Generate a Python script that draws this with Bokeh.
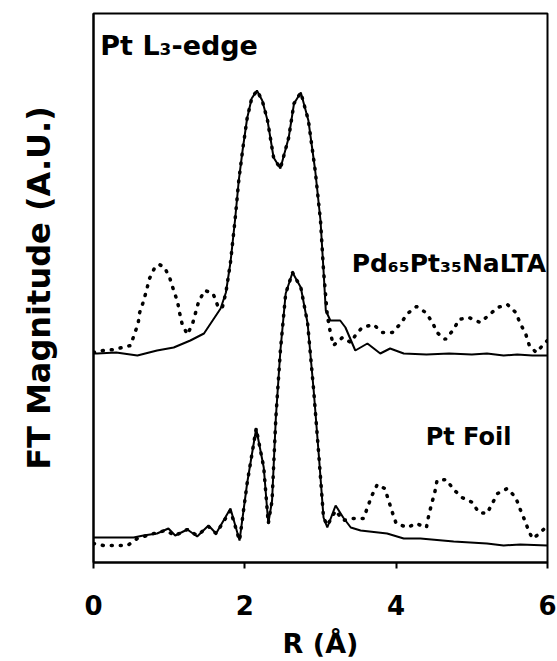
from bokeh.plotting import figure
from bokeh.models import Range1d, FixedTicker, Label
from bokeh.embed import file_html
from bokeh.resources import INLINE

# ---- data (R in Angstrom, FT magnitude in arbitrary units, offset stacked) ----
upper_fit_r = [0.00, 0.05, 0.30, 0.58, 0.84, 1.06, 1.28, 1.46, 1.68, 1.75, 1.81, 1.87, 1.92,
               1.97, 2.03, 2.09, 2.16, 2.23, 2.30, 2.38, 2.47, 2.58, 2.65, 2.74, 2.84, 2.93,
               3.00, 3.04, 3.07, 3.13, 3.26, 3.33, 3.46, 3.62, 3.79, 3.92, 4.10, 4.40, 4.70,
               5.00, 5.20, 5.42, 5.60, 5.80, 6.00]
upper_fit_mag = [2.09, 2.09, 2.10, 2.07, 2.12, 2.15, 2.22, 2.29, 2.54, 2.70, 3.00, 3.42, 3.82,
                 4.12, 4.44, 4.64, 4.72, 4.62, 4.42, 4.05, 3.94, 4.25, 4.59, 4.70, 4.42, 3.92,
                 3.42, 2.92, 2.52, 2.42, 2.42, 2.35, 2.12, 2.19, 2.09, 2.14, 2.09, 2.08, 2.09,
                 2.08, 2.09, 2.07, 2.08, 2.07, 2.07]

upper_data_r = [0.00, 0.13, 0.27, 0.38, 0.49, 0.53, 0.59, 0.61, 0.66, 0.70, 0.74, 0.81, 0.87,
                0.94, 1.01, 1.06, 1.11, 1.14, 1.17, 1.24, 1.31, 1.35, 1.39, 1.47, 1.58, 1.64,
                1.70, 1.75, 1.81, 1.87, 1.92, 1.97, 2.03, 2.09, 2.16, 2.23, 2.30, 2.38, 2.47,
                2.58, 2.65, 2.74, 2.84, 2.93, 3.00, 3.04, 3.09, 3.13, 3.17, 3.29, 3.40, 3.46,
                3.55, 3.70, 3.82, 3.95, 4.06, 4.15, 4.27, 4.39, 4.48, 4.54, 4.65, 4.76, 4.83,
                4.96, 5.11, 5.22, 5.34, 5.47, 5.58, 5.64, 5.71, 5.76, 5.85, 5.96, 6.00]
upper_data_mag = [2.10, 2.12, 2.13, 2.15, 2.17, 2.26, 2.39, 2.50, 2.61, 2.72, 2.84, 2.95, 2.98,
                  2.95, 2.84, 2.72, 2.61, 2.49, 2.39, 2.28, 2.39, 2.50, 2.61, 2.72, 2.69, 2.57,
                  2.54, 2.70, 3.00, 3.42, 3.82, 4.12, 4.44, 4.64, 4.72, 4.62, 4.42, 4.05, 3.94,
                  4.25, 4.59, 4.70, 4.42, 3.92, 3.42, 2.92, 2.47, 2.30, 2.17, 2.25, 2.20, 2.27,
                  2.35, 2.38, 2.30, 2.30, 2.39, 2.49, 2.56, 2.50, 2.40, 2.30, 2.23, 2.33, 2.43,
                  2.45, 2.40, 2.47, 2.55, 2.58, 2.50, 2.39, 2.29, 2.17, 2.10, 2.19, 2.22]

lower_fit_r = [0.00, 0.53, 0.66, 0.84, 0.99, 1.08, 1.24, 1.37, 1.52, 1.62, 1.81, 1.93, 2.03,
               2.15, 2.25, 2.31, 2.36, 2.41, 2.47, 2.54, 2.63, 2.74, 2.83, 2.91, 2.98, 3.04,
               3.09, 3.20, 3.30, 3.40, 3.53, 3.88, 4.10, 4.32, 4.76, 5.20, 5.42, 5.64, 6.00]
lower_fit_mag = [0.25, 0.25, 0.27, 0.29, 0.34, 0.27, 0.33, 0.26, 0.37, 0.29, 0.54, 0.22, 0.79,
                 1.34, 0.95, 0.39, 0.62, 1.45, 2.12, 2.69, 2.90, 2.75, 2.39, 1.72, 1.05, 0.45,
                 0.35, 0.57, 0.45, 0.35, 0.32, 0.29, 0.24, 0.24, 0.21, 0.19, 0.17, 0.18, 0.17]

lower_data_r = [0.00, 0.13, 0.29, 0.45, 0.58, 0.75, 0.95, 1.08, 1.24, 1.37, 1.52, 1.62, 1.81,
                1.93, 2.03, 2.15, 2.25, 2.31, 2.36, 2.41, 2.47, 2.54, 2.63, 2.74, 2.83, 2.91,
                2.98, 3.04, 3.09, 3.20, 3.30, 3.42, 3.57, 3.62, 3.68, 3.75, 3.85, 3.90, 3.95,
                4.00, 4.15, 4.26, 4.40, 4.43, 4.47, 4.51, 4.54, 4.66, 4.76, 4.87, 5.01, 5.09,
                5.20, 5.27, 5.34, 5.47, 5.58, 5.64, 5.70, 5.75, 5.80, 5.88, 6.00]
lower_data_mag = [0.19, 0.17, 0.17, 0.17, 0.24, 0.28, 0.32, 0.27, 0.33, 0.27, 0.36, 0.29, 0.52,
                  0.22, 0.79, 1.34, 0.95, 0.39, 0.62, 1.45, 2.12, 2.69, 2.90, 2.75, 2.39, 1.72,
                  1.05, 0.45, 0.37, 0.52, 0.42, 0.44, 0.44, 0.55, 0.67, 0.78, 0.74, 0.62, 0.50,
                  0.39, 0.35, 0.39, 0.35, 0.47, 0.59, 0.70, 0.82, 0.83, 0.73, 0.65, 0.60, 0.50,
                  0.49, 0.59, 0.69, 0.74, 0.65, 0.53, 0.42, 0.32, 0.24, 0.28, 0.37]

x_ticks = [0, 2, 4, 6]
FONT = "DejaVu Sans"

p = figure(width=557, height=661, output_backend="svg", toolbar_location=None,
           x_range=Range1d(0, 6), y_range=Range1d(0, 5.49),
           min_border_left=93, min_border_right=10, min_border_top=13, min_border_bottom=99)
p.background_fill_color = "white"
p.border_fill_color = "white"
p.grid.visible = False
p.outline_line_color = "black"
p.outline_line_width = 2

# data as dotted, fits as solid
for r, m in [(upper_data_r, upper_data_mag), (lower_data_r, lower_data_mag)]:
    p.line(r, m, line_color="black", line_width=3.5, line_dash="1 8", line_cap="round")
for r, m in [(upper_fit_r, upper_fit_mag), (lower_fit_r, lower_fit_mag)]:
    p.line(r, m, line_color="black", line_width=2)

p.xaxis.ticker = FixedTicker(ticks=x_ticks)
p.xaxis.minor_tick_line_color = None
p.xaxis.major_tick_in = 0
p.xaxis.major_tick_out = 6
p.xaxis.major_tick_line_width = 2
p.xaxis.axis_line_width = 2
p.xaxis.major_label_text_font = FONT
p.xaxis.major_label_text_font_style = "bold"
p.xaxis.major_label_text_font_size = "26px"
p.xaxis.major_label_text_color = "black"
p.xaxis.major_label_standoff = 26
p.xaxis.axis_label = "R (Å)"
p.xaxis.axis_label_text_font = FONT
p.xaxis.axis_label_text_font_style = "bold"
p.xaxis.axis_label_text_font_size = "27px"
p.xaxis.axis_label_text_color = "black"
p.xaxis.axis_label_standoff = 10

p.yaxis.ticker = FixedTicker(ticks=[])
p.yaxis.minor_tick_line_color = None
p.yaxis.major_tick_out = 0
p.yaxis.major_tick_in = 0
p.yaxis.axis_line_width = 2
p.yaxis.axis_label = "FT Magnitude (A.U.)"
p.yaxis.axis_label_text_font = FONT
p.yaxis.axis_label_text_font_style = "bold"
p.yaxis.axis_label_text_font_size = "32px"
p.yaxis.axis_label_text_color = "black"
p.yaxis.axis_label_standoff = 36

labels = [
    ("Pt L₃-edge", 0.09, 5.17, "left", 27),
    ("Pd₆₅Pt₃₅NaLTA", 5.98, 2.99, "right", 25),
    ("Pt Foil", 4.39, 1.26, "left", 24),
]
for txt, x, y, align, fs in labels:
    p.add_layout(Label(x=x, y=y, text=txt, text_align=align, text_baseline="alphabetic",
                       text_font=FONT, text_font_style="bold", text_font_size=f"{fs}px",
                       text_color="black"))

open("out.html", "w").write(file_html(p, INLINE))
